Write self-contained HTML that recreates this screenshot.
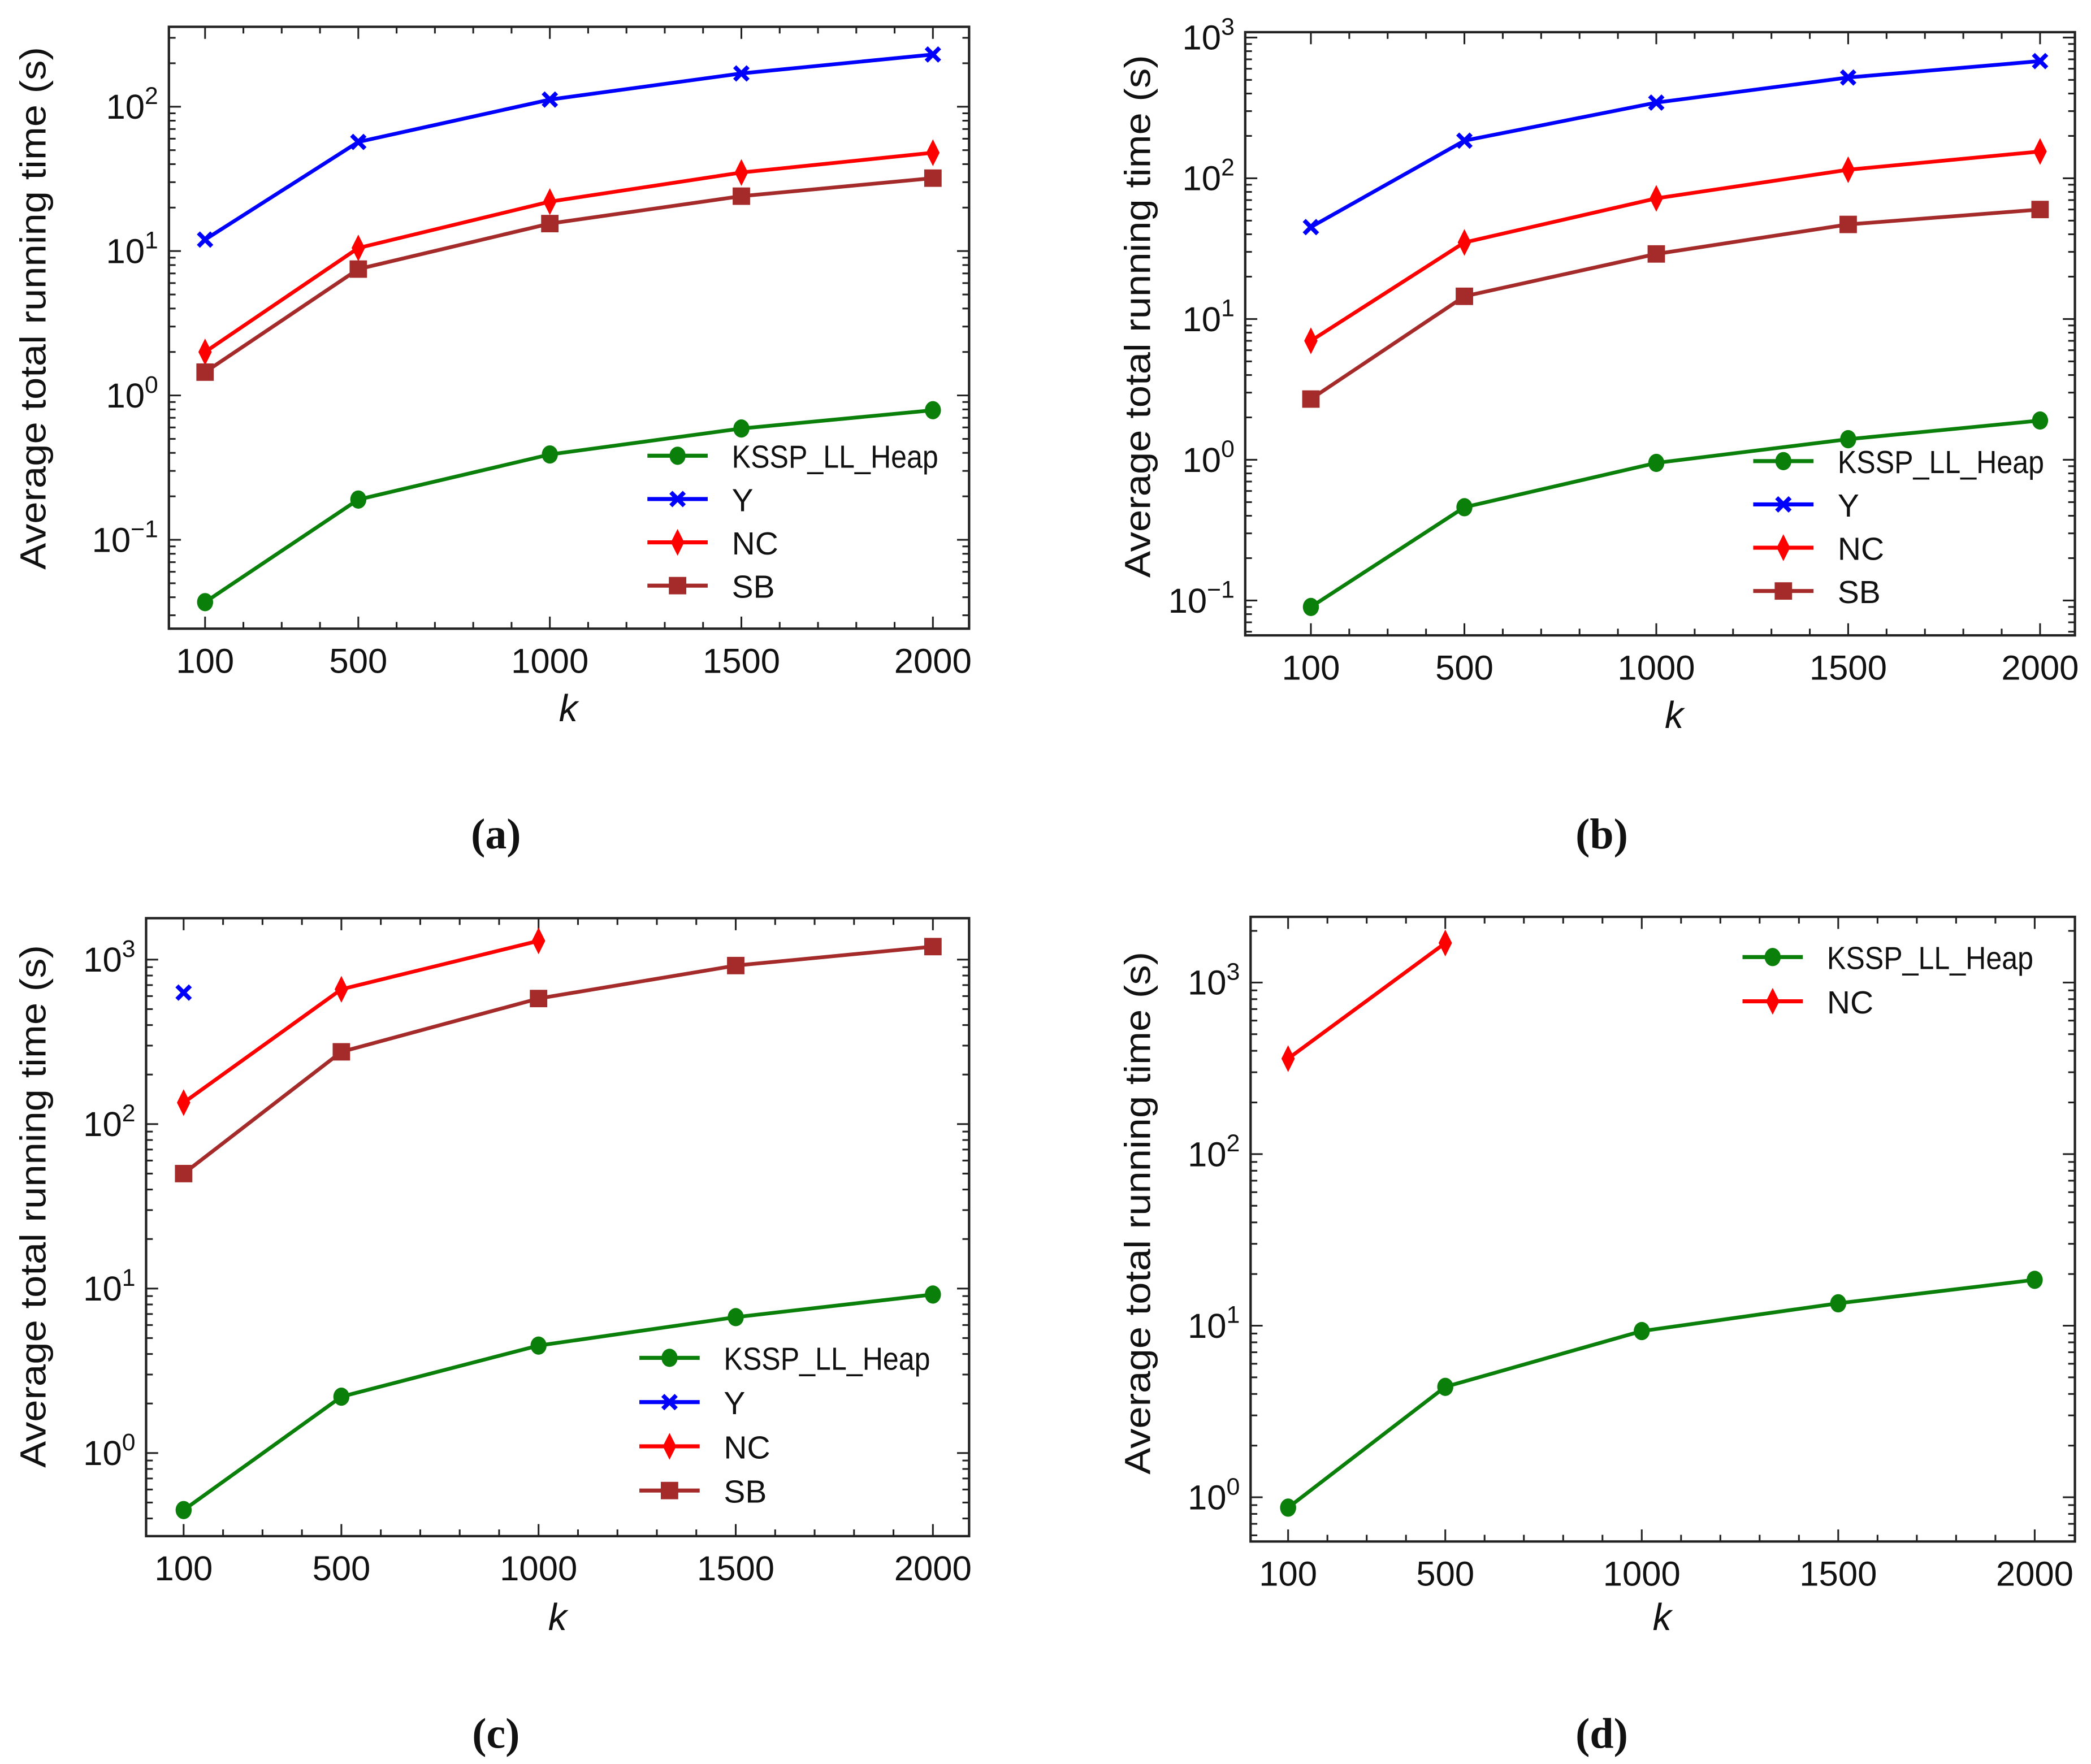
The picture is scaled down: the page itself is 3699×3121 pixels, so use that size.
<!DOCTYPE html>
<html><head><meta charset="utf-8"><style>
html,body{margin:0;padding:0;background:#fff;}
svg{display:block;}
text{font-family:"Liberation Sans",Arial,sans-serif;fill:#111;}
.cap{font-family:"Liberation Serif",serif;font-weight:bold;}
</style></head><body>
<svg id="fig" xmlns="http://www.w3.org/2000/svg" width="3699" height="3121" viewBox="0 0 1560 1316" preserveAspectRatio="none"></svg>
<script>
// ---- data ----
const kValues = [100, 500, 1000, 1500, 2000];
const xTicks = [100, 500, 1000, 1500, 2000];
// panel a
const aKSSP = [0.037, 0.19, 0.39, 0.59, 0.79];
const aY = [12, 57, 112, 170, 230];
const aNC = [2.0, 10.5, 22, 35, 48];
const aSB = [1.45, 7.5, 15.5, 24, 32];
const aDecades = [-1, 0, 1, 2];
// panel b
const bKSSP = [0.09, 0.46, 0.95, 1.4, 1.9];
const bY = [45, 185, 345, 520, 680];
const bNC = [7, 35, 72, 115, 155];
const bSB = [2.7, 14.5, 29, 47, 60];
const bDecades = [-1, 0, 1, 2, 3];
// panel c
const cKSSP = [0.45, 2.2, 4.5, 6.7, 9.2];
const cY = [630, null, null, null, null];
const cNC = [135, 660, 1300, null, null];
const cSB = [50, 275, 580, 920, 1200];
const cDecades = [0, 1, 2, 3];
// panel d
const dKSSP = [0.87, 4.4, 9.3, 13.5, 18.5];
const dNC = [360, 1700, null, null, null];
const dDecades = [0, 1, 2, 3];

const NS = "http://www.w3.org/2000/svg";
const svg = document.getElementById('fig');
function mk(tag, attrs, parent){
  const e = document.createElementNS(NS, tag);
  for (const k in attrs) e.setAttribute(k, attrs[k]);
  (parent||svg).appendChild(e);
  return e;
}
const COL = {KSSP:'#0a800a', Y:'#0000ff', NC:'#ff0000', SB:'#a52a2a'};

function marker(g, type, x, y, color){
  let m;
  if (type==='KSSP'){ m = mk('ellipse',{cx:x,cy:y,rx:6,ry:6.8,fill:color},g); }
  else if (type==='Y'){
    m = mk('path',{d:`M${x-5},${y-5}L${x+5},${y+5}M${x-5},${y+5}L${x+5},${y-5}`,stroke:color,'stroke-width':3.2,fill:'none'},g);
  } else if (type==='NC'){
    m = mk('path',{d:`M${x},${y-10}L${x+5},${y}L${x},${y+10}L${x-5},${y}Z`,fill:color},g);
  } else {
    m = mk('rect',{x:x-6.5,y:y-6.5,width:13,height:13,fill:color},g);
  }
  
  
}

function panel(p){
  const g = mk('g',{});
  
  
  const xs = v => p.x0 + (v-100)/1900*(p.x1-p.x0);
  const ys = v => p.yd0 - (Math.log10(v)-p.d0)*p.dpx;
  const tg = mk('g',{stroke:'#222','stroke-width':1.3},g);
  for (let v=100; v<=2000; v+=100){
    const X = xs(v), major = xTicks.includes(v);
    if (X<p.L||X>p.R) continue;
    const l = major?9:5;
    mk('line',{x1:X,y1:p.B,x2:X,y2:p.B-l},tg);
    mk('line',{x1:X,y1:p.T,x2:X,y2:p.T+l},tg);
  }
  for (let d=p.d0-2; d<=p.d0+6; d++){
    for (let m=1; m<10; m++){
      const Y = ys(m*Math.pow(10,d));
      if (Y<p.T||Y>p.B) continue;
      const l = m===1?9:5;
      mk('line',{x1:p.L,y1:Y,x2:p.L+l,y2:Y},tg);
      mk('line',{x1:p.R,y1:Y,x2:p.R-l,y2:Y},tg);
    }
  }
  const box = mk('rect',{x:p.L,y:p.T,width:p.R-p.L,height:p.B-p.T,fill:'none',stroke:'#222','stroke-width':1.8},g);
   
  xTicks.forEach(v=>{
    const t = mk('text',{x:xs(v),y:p.B+33,'font-size':26,'text-anchor':'middle'},g);
    t.textContent = v;
     
  });
  p.decades.forEach(d=>{
    const Y = ys(Math.pow(10,d));
    const t = mk('text',{x:p.L-8,y:Y+9,'font-size':26,'text-anchor':'end'},g);
     
    const s1 = mk('tspan',{},t); s1.textContent='10';
    const s2 = mk('tspan',{dy:-11,'font-size':18},t); s2.textContent = d<0 ? '\u2212'+(-d) : String(d);
  });
  const yt = mk('text',{x:0,y:0,'font-size':27,'text-anchor':'middle',textLength:390,lengthAdjust:'spacingAndGlyphs',transform:`translate(${p.ylx},${p.yly}) rotate(-90)`},g);
  yt.textContent='Average total running time (s)';
   
  const xt = mk('text',{x:p.klx,y:p.kly,'font-size':28,'font-style':'italic','text-anchor':'middle'},g);
  xt.textContent='k';
   
  const cp = mk('text',{x:p.capx,y:p.capy,'font-size':32,'text-anchor':'middle','class':'cap'},g);
  cp.textContent='('+p.id+')';
   
  p.series.forEach(s=>{
    const sg = mk('g',{},g);
    
    
    const pts = [];
    s.vals.forEach((v,i)=>{ if(v!=null) pts.push([xs(kValues[i]),ys(v)]); });
    if (pts.length>1){
      const pl = mk('polyline',{points:pts.map(q=>q.join(',')).join(' '),fill:'none',stroke:COL[s.name],'stroke-width':2.8,'stroke-linejoin':'round'},sg);
      
      
    }
    pts.forEach(q=>marker(sg,s.name,q[0],q[1],COL[s.name]));
  });
  const lg = mk('g',{},g);
   
  p.legend.forEach((name,i)=>{
    const Y = p.legY + i*p.legDy;
    const eg = mk('g',{},lg);
     
    mk('line',{x1:p.legX,y1:Y,x2:p.legX+45,y2:Y,stroke:COL[name],'stroke-width':3},eg);
    marker(eg,name,p.legX+22.5,Y,COL[name]);
    const attrs = {x:p.legX+63,y:Y+9,'font-size':24};
    if (name==='KSSP'){ attrs.textLength=154; attrs.lengthAdjust='spacingAndGlyphs'; }
    const t = mk('text',attrs,eg);
    t.textContent = name==='KSSP' ? 'KSSP_LL_Heap' : name;
  });
}

panel({id:'a',L:126,R:723,T:20,B:469,x0:153,x1:696,yd0:295,d0:0,dpx:107.7,decades:aDecades,
  ylx:34,yly:230,klx:424,kly:538,capx:370,capy:633,legX:483,legY:340,legDy:32.3,legend:['KSSP','Y','NC','SB'],
  series:[{name:'KSSP',vals:aKSSP},{name:'Y',vals:aY},{name:'NC',vals:aNC},{name:'SB',vals:aSB}]});
panel({id:'b',L:929,R:1548,T:24,B:474,x0:978,x1:1522,yd0:343,d0:0,dpx:105,decades:bDecades,
  ylx:858,yly:236,klx:1249,kly:543,capx:1195,capy:633,legX:1308,legY:344,legDy:32.3,legend:['KSSP','Y','NC','SB'],
  series:[{name:'KSSP',vals:bKSSP},{name:'Y',vals:bY},{name:'NC',vals:bNC},{name:'SB',vals:bSB}]});
panel({id:'c',L:109,R:723,T:685,B:1146,x0:137,x1:696,yd0:1084,d0:0,dpx:122.7,decades:cDecades,
  ylx:34,yly:900,klx:416,kly:1216,capx:370,capy:1304,legX:477,legY:1013,legDy:33,legend:['KSSP','Y','NC','SB'],
  series:[{name:'KSSP',vals:cKSSP},{name:'Y',vals:cY},{name:'NC',vals:cNC},{name:'SB',vals:cSB}]});
panel({id:'d',L:933,R:1548,T:684,B:1150,x0:961,x1:1518,yd0:1117,d0:0,dpx:128,decades:dDecades,
  ylx:858,yly:905,klx:1240,kly:1216,capx:1195,capy:1304,legX:1300,legY:714,legDy:33,legend:['KSSP','NC'],
  series:[{name:'KSSP',vals:dKSSP},{name:'NC',vals:dNC}]});
</script>
</body></html>
